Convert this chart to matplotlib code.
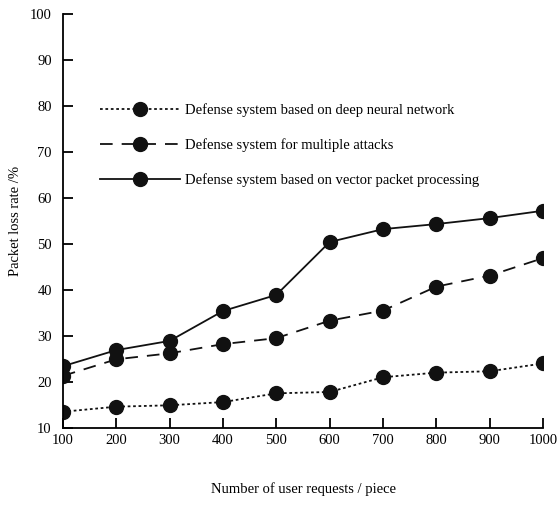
import matplotlib
matplotlib.use("Agg")
import matplotlib.pyplot as plt

plt.rcParams['font.family'] = ['Liberation Serif', 'DejaVu Serif']

# number of user requests
requests = [100, 200, 300, 400, 500, 600, 700, 800, 900, 1000]

# packet loss rate (%) for each defense system
dnn_loss = [13.5, 14.6, 14.9, 15.6, 17.5, 17.8, 21.0, 22.0, 22.3, 24.0]
multi_loss = [21.3, 24.9, 26.2, 28.2, 29.5, 33.3, 35.5, 40.7, 43.1, 46.9]
vpp_loss = [23.4, 26.9, 28.9, 35.4, 38.9, 50.4, 53.2, 54.3, 55.6, 57.2]

labels = ["Defense system based on deep neural network",
          "Defense system for multiple attacks",
          "Defense system based on vector packet processing"]

fig = plt.figure(figsize=(5.57, 5.13), dpi=100)
ax = fig.add_axes([0.113, 0.166, 0.862, 0.807])

ax.plot(requests, dnn_loss, color='#111111', linestyle=(0, (1.5, 1.5)), lw=1.3,
        marker='o', markersize=10, label=labels[0])
ax.plot(requests, multi_loss, color='#111111', linestyle=(0, (7, 5)), lw=1.3,
        marker='o', markersize=10, label=labels[1])
ax.plot(requests, vpp_loss, color='#111111', linestyle='-', lw=1.3,
        marker='o', markersize=10, label=labels[2])

ax.set_xlim(100, 1000)
ax.set_ylim(10, 100)
ax.set_xticks(requests)
ax.set_yticks(range(10, 101, 10))

ax.spines['top'].set_visible(False)
ax.spines['right'].set_visible(False)
ax.spines['left'].set_linewidth(1.3)
ax.spines['bottom'].set_linewidth(1.3)
ax.tick_params(direction='in', length=7, width=1.3, labelsize=10.5)
ax.tick_params(axis='x', pad=4.5)
ax.tick_params(axis='y', pad=8)

ax.set_xlabel("Number of user requests / piece", fontsize=10.5, labelpad=25)
ax.set_ylabel("Packet loss rate /%", fontsize=10.5, labelpad=6)

ax.legend(loc='upper left', bbox_to_anchor=(0.05, 0.815), frameon=False,
          numpoints=1, handlelength=5.5, handletextpad=0.3,
          labelspacing=1.45, fontsize=10.5)

plt.savefig("out.png", dpi=100)
